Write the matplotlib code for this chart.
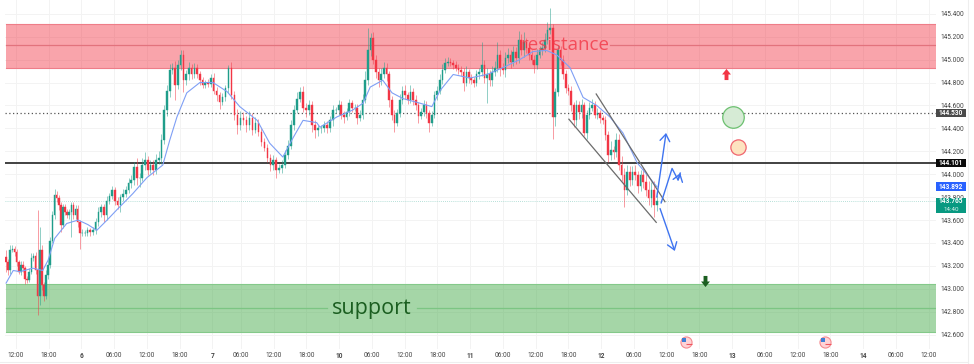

import numpy as np
import matplotlib
matplotlib.use("Agg")
import matplotlib.pyplot as plt
from matplotlib.lines import Line2D
from matplotlib.patches import Rectangle
from matplotlib.path import Path

plt.rcParams['font.family'] = ['Roboto', 'DejaVu Sans']

# closes, one list per trading day
closes_5 = [143.23,143.16,143.34,143.35,143.32,143.23,143.15,143.21,143.18,143.09,143.08,143.15,143.27,143.29,143.16,142.94,143.34,143.03,142.94,143.12,143.21,143.42,143.64,143.82,143.79,143.73,143.56,143.71,143.67,143.64,143.67,143.73,143.64,143.70,143.58,143.49]
closes_6 = [143.49,143.49,143.51,143.50,143.51,143.58,143.67,143.71,143.64,143.77,143.81,143.86,143.77,143.73,143.80,143.83,143.86,143.92,143.95,144.06,143.97,143.97,144.08,144.12,144.04,144.08,144.04,144.12,144.14,144.30,144.56,144.73,144.91,144.93,144.78,144.95,145.04,144.82,144.87,144.93,144.87,144.93,144.87,144.82,144.78,144.80,144.79,144.84]
closes_7 = [144.73,144.69,144.63,144.67,144.75,144.93,144.69,144.52,144.43,144.49,144.47,144.43,144.49,144.39,144.45,144.37,144.28,144.23,144.14,144.08,144.12,144.04,144.05,144.08,144.17,144.25,144.43,144.56,144.66,144.72,144.58,144.56,144.60,144.43,144.39,144.40,144.40,144.43,144.40,144.47,144.56,144.56,144.60]
closes_10 = [144.52,144.50,144.54,144.62,144.58,144.58,144.49,144.52,144.65,144.82,145.08,145.19,145.00,144.89,144.82,144.87,144.93,144.87,144.65,144.52,144.45,144.53,144.65,144.73,144.69,144.65,144.72,144.65,144.60,144.51,144.54,144.60,144.53,144.45,144.52,144.69,144.73,144.82,144.91,144.97,144.98,144.97,144.95,144.93,144.91,144.89,144.80,144.89,144.84]
closes_11 = [144.82,144.80,144.87,144.89,144.95,144.84,144.87,144.82,144.89,144.93,145.04,144.93,144.91,145.01,145.04,144.98,145.07,145.01,145.17,145.08,145.15,145.10,145.04,145.00,144.95,145.04,145.08,145.10,145.17,145.26,145.28,144.50,144.72,145.08,145.00,144.87,144.75,144.73,144.60,144.47,144.60,144.54,144.60,144.36,144.52,144.58,144.60,144.52,144.53,144.49]
closes_12 = [144.47,144.34,144.17,144.21,144.19,144.30,144.08,143.99,143.86,144.02,143.95,144.02,143.99,143.90,143.99,143.93,143.86,143.79,143.86,143.73,143.765]

# wick lengths in 0.01 price units
up_5 = [6,3,4,3,2,3,2,3,3,2,2,3,4,2,3,53,20,4,3,4,6,3,4,5,3,3,3,3,3,3,3,3,3,3,3,2]
dn_5 = [8,4,3,2,3,3,2,3,3,5,3,2,2,3,3,17,8,4,5,3,3,3,2,3,3,4,6,3,3,2,3,22,3,3,4,14]
up_6 = [3,2,3,2,3,4,4,3,3,4,3,4,3,3,3,4,4,5,4,5,8,4,6,7,4,4,4,6,6,5,4,5,5,4,6,5,4,4,4,5,3,4,3,3,3,2,3,3]
dn_6 = [3,3,3,4,3,3,3,4,6,4,3,3,4,3,6,3,3,2,4,4,6,8,3,4,5,3,5,4,3,5,4,5,6,4,13,4,4,10,4,5,4,3,3,4,3,3,3,3]
up_7 = [4,3,3,4,3,2,5,4,5,6,5,4,6,4,5,3,3,4,3,4,5,3,4,4,4,5,4,4,6,4,5,4,5,4,4,3,3,3,3,4,4,3,5]
dn_7 = [3,5,6,3,3,4,3,5,8,4,4,6,4,5,3,4,3,3,3,5,4,7,3,4,3,4,3,4,3,3,4,6,4,6,7,6,4,3,4,3,5,3,4]
up_10 = [4,3,4,4,3,3,3,4,5,8,20,4,5,4,4,6,5,4,3,3,4,4,5,4,5,3,6,3,4,3,4,5,4,3,3,4,4,5,5,4,4,3,3,4,3,3,4,5,3]
dn_10 = [4,5,3,3,4,3,5,3,4,3,4,5,4,5,6,4,3,6,6,5,8,3,3,4,3,4,3,5,4,6,3,3,4,8,3,3,4,3,3,3,3,3,3,3,4,3,7,3,4]
up_11 = [3,3,4,4,20,5,6,4,5,6,11,4,4,6,6,4,5,4,8,5,9,4,4,4,4,5,4,5,6,7,17,3,3,5,4,4,4,4,4,3,5,4,6,3,4,5,6,4,5,3]
dn_11 = [3,4,3,4,3,4,22,5,5,3,4,7,4,6,4,5,4,5,4,4,6,4,4,4,7,3,3,4,3,3,4,19,8,4,5,4,4,4,5,6,5,6,5,3,5,4,3,3,4,4]
up_12 = [3,4,4,8,4,6,5,8,6,6,5,5,6,4,5,6,7,8,7,8,5]
dn_12 = [3,4,6,5,6,4,4,5,15,4,5,4,4,6,5,5,5,6,8,10,5]

# span of each day on the time axis, hours after the first 12:00 tick
day_from = [-1.8, 12.1, 36.2, 59.6, 83.4, 107.5]
day_to = [11.7, 35.7, 59.2, 83.0, 107.0, 117.4]

ma_hours = [-1.8,-.5,.7,3.1,4.9,5.9,7.1,9.3,11.4,13.2,14.8,16.7,18.5,21.4,24,26.9,28.2,29.5,31.3,33.7,36.1,38.7,41,44.2,46.5,48.9,50.8,52.6,55.1,55.7,58.8,61.7,63.6,64.9,67.2,68.9,70.9,74,76.2,77.7,80.1,83.2,86.3,89.2,92.3,94.7,97.2,99.1,101.5,103.9,106.4,108.8,111.2,113.8,117.4]
ma_values = [143.05,143.16,143.15,143.18,143.16,143.25,143.44,143.57,143.60,143.56,143.51,143.60,143.69,143.83,143.97,144.08,144.30,144.50,144.71,144.80,144.80,144.72,144.59,144.47,144.27,144.15,144.32,144.47,144.45,144.41,144.50,144.56,144.62,144.76,144.82,144.71,144.66,144.62,144.59,144.73,144.87,144.84,144.87,144.93,145.00,145.07,145.08,145.04,144.93,144.67,144.60,144.50,144.36,144.10,143.892]

tick_hours = [0,6,12,18,24,30,36,41.2,47.2,53.2,59.2,65.2,71.2,77.2,83.2,89.2,95.2,101.2,107.2,113.2,119.2,125.2,131.2,137.2,143.2,149.2,155.2,161.2,167.2]
tick_text = ["12:00","18:00","6","06:00","12:00","18:00","7","06:00","12:00","18:00","10","06:00","12:00","18:00","11","06:00","12:00","18:00","12","06:00","12:00","18:00","13","06:00","12:00","18:00","14","06:00","12:00"]
price_ticks = [145.4,145.2,145.0,144.8,144.6,144.4,144.2,144.0,143.8,143.6,143.4,143.2,143.0,142.8,142.6]

resistance = (144.93, 145.13, 145.31)
support = (142.62, 142.83, 143.04)
level_dotted = 144.530
level_solid = 144.101
ma_last = 143.892
last_price = 143.765

channel_top = ([106.3, 118.9], [144.70, 143.76])
channel_low = ([101.3, 117.3], [144.48, 143.58])
arrow_up = ([117.4, 119.1], [143.80, 144.36])
arrow_zig = ([118.2, 120.2, 121.3, 121.7], [143.75, 144.05, 143.95, 144.01])
arrow_down = ([118.0, 120.7], [143.70, 143.33])
event_hours = [122.8, 148.2]

closes = np.array(closes_5 + closes_6 + closes_7 + closes_10 + closes_11 + closes_12)
wick_up = np.array(up_5 + up_6 + up_7 + up_10 + up_11 + up_12) / 100
wick_dn = np.array(dn_5 + dn_6 + dn_7 + dn_10 + dn_11 + dn_12) / 100
day_lists = [closes_5, closes_6, closes_7, closes_10, closes_11, closes_12]
hours = np.concatenate([np.linspace(a, b, len(c)) for a, b, c in zip(day_from, day_to, day_lists)])
opens = np.r_[143.28, closes[:-1]]

GREEN = '#1f9d8a'
RED = '#f23645'
BLUE = '#3f74f0'
HEAD = '->,head_width=0.35,head_length=0.5'

fig = plt.figure(figsize=(9.74, 3.64), dpi=100)
ax = fig.add_axes([5/974, 1-349/364, 931/974, 349/364])
ax.set_xlim(-2.0, 168.55)
ax.set_ylim(142.475, 145.52)

for s in ax.spines.values():
    s.set_visible(False)
ax.set_xticks(tick_hours)
ax.set_xticklabels(tick_text)
ax.set_yticks(price_ticks)
ax.set_yticklabels(["%.3f" % p for p in price_ticks])
ax.yaxis.tick_right()
ax.tick_params(axis='y', length=0, pad=3, labelsize=4.7, labelcolor='#444444')
ax.tick_params(axis='x', length=0, pad=2.5, labelsize=4.7, labelcolor='#444444')
for lab, txt in zip(ax.get_xticklabels(), tick_text):
    if ":" not in txt:
        lab.set_fontweight('bold')
ax.grid(True, color='#f3f3f3', lw=0.7)
ax.set_axisbelow(True)

# zones
ax.axhspan(resistance[0], resistance[2], xmin=1/931, color='#f23645', alpha=0.45, lw=0, zorder=1)
ax.axhspan(support[0], support[2], xmin=1/931, color='#4caf50', alpha=0.5, lw=0, zorder=1)
for v in (resistance[0], resistance[2]):
    ax.axhline(v, xmin=1/931, color='#ee7d88', lw=0.8, zorder=1.1)
for v in (support[0], support[2]):
    ax.axhline(v, xmin=1/931, color='#84c98a', lw=0.8, zorder=1.1)
ax.plot([-1.8, 91.8], [resistance[1]]*2, color='#e2737d', lw=0.9, zorder=1.1)
ax.plot([108.8, 168.55], [resistance[1]]*2, color='#e2737d', lw=0.9, zorder=1.1)
ax.plot([-1.8, 57.0], [support[1]]*2, color='#7cc583', lw=0.9, zorder=1.1)
ax.plot([73.5, 168.55], [support[1]]*2, color='#7cc583', lw=0.9, zorder=1.1)

# levels
ax.axhline(level_dotted, color='#555555', lw=0.9, ls=(0, (1, 2)), zorder=2)
ax.axhline(level_solid, color='#333333', lw=1.3, zorder=2)
ax.axhline(last_price, color='#9fd6cc', lw=0.6, ls=(0, (1, 1.5)), zorder=2)

# candles
is_up = closes >= opens
colors = np.where(is_up, GREEN, RED)
tops = np.maximum(opens, closes)
bots = np.minimum(opens, closes)
ax.vlines(hours, bots - wick_dn, tops + wick_up, colors=colors, lw=0.7, alpha=0.5, zorder=3)
ax.bar(hours, tops - bots, bottom=bots, width=0.3, color=colors, edgecolor=colors, lw=0.3, zorder=3.2)

ax.plot(ma_hours, ma_values, color='#7f9ff5', lw=0.8, zorder=3.5)

# channel + projected paths
for xs, ys in (channel_top, channel_low):
    ax.plot(xs, ys, color='#6b6b6b', lw=0.9, zorder=4)
ax.plot(arrow_zig[0], arrow_zig[1], color=BLUE, lw=1.0, zorder=5)
ax.annotate('', xy=(arrow_zig[0][3], arrow_zig[1][3]), xytext=(arrow_zig[0][2], arrow_zig[1][2]),
            arrowprops=dict(arrowstyle=HEAD, color=BLUE, lw=1.0, mutation_scale=10, shrinkA=0, shrinkB=0), zorder=5)
for xs, ys in (arrow_up, arrow_down):
    ax.annotate('', xy=(xs[1], ys[1]), xytext=(xs[0], ys[0]),
                arrowprops=dict(arrowstyle=HEAD, color=BLUE, lw=1.0, mutation_scale=10, shrinkA=0, shrinkB=0), zorder=5)

# targets
ax.plot([131.4], [144.50], 'o', ms=15.5, mfc='#d6ebd5', mec='#6cc070', mew=0.9, zorder=5)
ax.plot([132.3], [144.24], 'o', ms=11, mfc='#fde3c0', mec='#f0656f', mew=0.9, zorder=5)

block_up = Path([(-.35,0),(-.8,0),(0,1),(.8,0),(.35,0),(.35,-1),(-.35,-1),(-.35,0)])
block_dn = Path([(-.35,0),(-.8,0),(0,-1),(.8,0),(.35,0),(.35,1),(-.35,1),(-.35,0)])
ax.plot([130.1], [144.87], marker=block_up, ms=8, color=RED, mew=0, zorder=5)
ax.plot([126.2], [143.07], marker=block_dn, ms=8, color='#1b5e20', mew=0, zorder=5)

# calendar icons
for h in event_hours:
    ax.plot([h], [142.54], 'o', ms=8, mfc='#ffd3d6', mec='#f58a90', mew=0.8, zorder=5, clip_on=False)
    ax.plot([h-0.35], [142.555], 's', ms=3, color='#3f7fd6', mew=0, zorder=5.1, clip_on=False)
    ax.plot([h+0.5], [142.52], '_', ms=4, color='#f0555f', mew=0.8, zorder=5.1, clip_on=False)

ax.text(100.6, 145.13, "resistance", color='#f23645', alpha=0.8, fontsize=13.5, family='Open Sans',
        ha='center', va='center', zorder=6)
ax.text(65.2, 142.83, "support", color='#1b5e20', fontsize=15.5, family='Open Sans',
        ha='center', va='center', zorder=6)

# price tags on the axis
tag_tr = ax.get_yaxis_transform()
def price_tag(price, text, color, h0, h1, sub=None):
    ax.add_patch(Rectangle((1.0, price - h0), 30/931, h0 + h1, transform=tag_tr, color=color,
                           lw=0, clip_on=False, zorder=20))
    ax.text(1 + 15/931, price, text, transform=tag_tr, color='white', fontsize=4.7, fontweight='bold',
            ha='center', va='center', clip_on=False, zorder=21)
    if sub is not None:
        ax.text(1 + 15/931, price - 0.07, sub, transform=tag_tr, color='#d6f0ea', fontsize=4.5,
                ha='center', va='center', clip_on=False, zorder=21)

price_tag(level_dotted, "144.530", '#4a4a4a', 0.035, 0.035)
price_tag(level_solid, "144.101", '#0a0a0a', 0.035, 0.035)
price_tag(ma_last, "143.892", '#2962ff', 0.037, 0.037)
price_tag(last_price, "143.765", '#089981', 0.105, 0.03, sub="14:40")

# faint outer frame of the chart window
fig.add_artist(Line2D([968/974, 968/974], [0, 1], color='#eeeeee', lw=0.8))
fig.add_artist(Line2D([0, 968/974], [1-362/364, 1-362/364], color='#eeeeee', lw=0.8))

fig.savefig("out.png", dpi=100)
